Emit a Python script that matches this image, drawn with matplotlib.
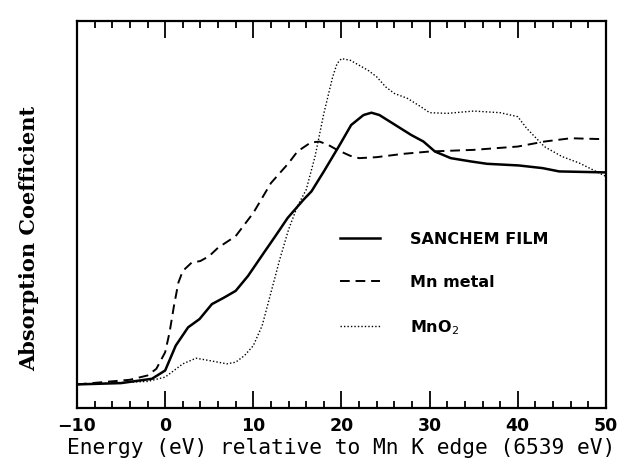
import numpy as np
import matplotlib
matplotlib.use("Agg")
import matplotlib.pyplot as plt
from matplotlib.ticker import MultipleLocator

# energies (eV) and absorption (arbitrary units)
film_e = [-10, -5, -1.5, 0, 1.2, 2.6, 3.9, 5.3, 6.7, 8, 9.4, 11.2, 12.5, 13.9, 15.7, 16.6,
          18, 19.8, 21.1, 22.5, 23.4, 24.3, 26.1, 27.9, 29.3, 30.6, 32.4, 34.7, 36.5,
          40.1, 42.8, 44.7, 50]
film_a = [71, 75, 88, 113, 188, 243, 268, 313, 333, 353, 398, 468, 518, 573, 628, 653,
          713, 793, 853, 883, 890, 883, 853, 823, 803, 773, 753, 743, 736,
          731, 723, 713, 710]

metal_e = [-10, -4, -2, -1, 0, 0.5, 1, 1.5, 2, 3, 4, 5, 6, 8, 10, 12, 14, 15, 16.5, 17.5,
           18.5, 19.5, 21, 22, 24, 27, 30, 35, 40, 43, 46, 50]
metal_a = [71, 85, 98, 118, 168, 228, 308, 378, 413, 438, 443, 458, 483, 518, 588, 678,
           738, 773, 800, 803, 793, 778, 760, 753, 756, 766, 773, 778, 788, 803, 813, 810]

oxide_e = [-10, -2, 0, 1, 2, 3.5, 5, 7, 8, 9, 10, 11, 12, 13, 14, 15, 16, 17, 18, 19, 19.5,
           20, 21, 22, 23, 24, 25, 26, 27.5, 29, 30, 32, 35, 38, 40, 41, 43, 45, 47, 50]
oxide_a = [71, 80, 93, 113, 133, 150, 143, 133, 138, 158, 188, 248, 348, 448, 538, 608,
           658, 758, 888, 998, 1038, 1053, 1048, 1033, 1018, 998, 968, 948, 933, 908, 890,
           888, 895, 890, 878, 843, 788, 758, 738, 698]

labels = ["SANCHEM FILM", "Mn metal", "MnO$_2$"]

fig = plt.figure(figsize=(6.26, 4.77), dpi=100)
ax = fig.add_axes([0.123, 0.1426, 0.845, 0.811])

ax.plot(film_e, film_a, color="black", lw=1.8, label=labels[0])
ax.plot(metal_e, metal_a, color="black", lw=1.4, ls=(0, (5, 3)), label=labels[1])
ax.plot(oxide_e, oxide_a, color="black", lw=1.0, ls=(0, (1, 1.5)), label=labels[2])

ax.set_xlim(-10, 50)
ax.set_ylim(0, 1166)
ax.xaxis.set_major_locator(MultipleLocator(10))
ax.xaxis.set_minor_locator(MultipleLocator(2))
ax.set_yticks([])
ax.tick_params(axis="x", which="both", direction="in", top=True, width=1.3)
ax.tick_params(axis="x", which="major", length=12, labelsize=12.5, pad=6)
ax.tick_params(axis="x", which="minor", length=5)
for lab in ax.get_xticklabels():
    lab.set_fontweight("bold")
for sp in ax.spines.values():
    sp.set_linewidth(1.6)

ax.set_xlabel("Energy (eV) relative to Mn K edge (6539 eV)",
              family="DejaVu Sans Mono", fontsize=15.3, labelpad=2)
ax.set_ylabel("Absorption Coefficient", family="DejaVu Serif",
              fontweight="bold", fontsize=15)
ax.yaxis.set_label_coords(-0.072, 0.44)

leg = ax.legend(loc="upper left", bbox_to_anchor=(0.47, 0.494), frameon=False,
                handlelength=2.5, handletextpad=1.9, labelspacing=1.75,
                prop={"weight": "bold", "size": 11.5})

fig.savefig("out.png", dpi=100)
